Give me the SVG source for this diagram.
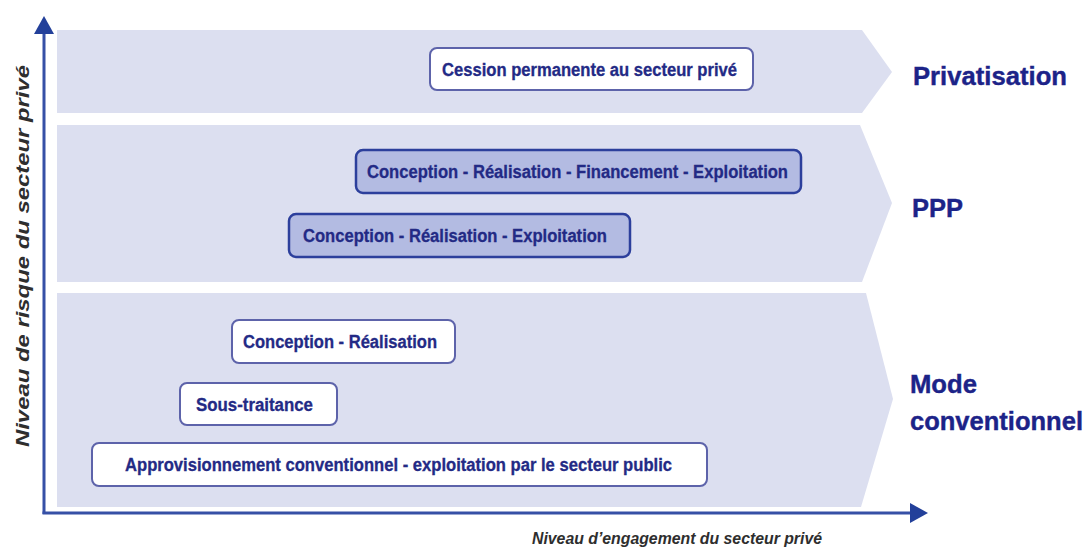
<svg xmlns="http://www.w3.org/2000/svg" width="1089" height="553" viewBox="0 0 1089 553">
  <style>
    .band { fill: #dcdff0; }
    .box-white { fill: #ffffff; stroke: #5d63aa; stroke-width: 2; }
    .box-blue { fill: #b3bbe2; stroke: #2c3f9c; stroke-width: 2.5; }
    .box-text { font-family: "Liberation Sans", Arial, sans-serif; font-weight: bold; font-size: 18px; fill: #232a85; stroke: #232a85; stroke-width: 0.3; }
    .stage { font-family: "Liberation Sans", Arial, sans-serif; font-weight: bold; font-size: 26px; fill: #1c2388; stroke: #1c2388; stroke-width: 0.4; }
    .axis { stroke: #3650a6; stroke-width: 3; fill: none; }
    .axis-label { font-family: "Liberation Sans", Arial, sans-serif; font-weight: bold; font-style: italic; fill: #2e2e2e; }
  </style>
  <defs>
    <marker id="arrow" markerUnits="userSpaceOnUse" markerWidth="20" markerHeight="22" refX="2" refY="10" orient="auto">
      <path d="M0,0 L18,10 L0,20 z" fill="#23409a"/>
    </marker>
  </defs>

  <rect width="1089" height="553" fill="#ffffff"/>

  <!-- stage bands -->
  <g id="band-privatisation">
    <path class="band" d="M57,30 L862,30 L892,72 L862,113 L57,113 z"/>
    <text class="stage" x="913" y="85" textLength="154" lengthAdjust="spacingAndGlyphs">Privatisation</text>
  </g>
  <g id="band-ppp">
    <path class="band" d="M57,125 L860,125 L892,203 L862,282 L57,282 z"/>
    <text class="stage" x="912" y="217" textLength="51" lengthAdjust="spacingAndGlyphs">PPP</text>
  </g>
  <g id="band-conventionnel">
    <path class="band" d="M57,293 L866,293 L893,399 L861,507 L57,507 z"/>
    <text class="stage" x="910" y="393" textLength="67" lengthAdjust="spacingAndGlyphs">Mode</text>
    <text class="stage" x="910" y="430" textLength="173" lengthAdjust="spacingAndGlyphs">conventionnel</text>
  </g>

  <!-- contract types -->
  <g id="node-cession">
    <rect class="box-white" x="430" y="48" width="323" height="42" rx="7"/>
    <text class="box-text" x="442" y="75.5" textLength="295" lengthAdjust="spacingAndGlyphs">Cession permanente au secteur privé</text>
  </g>
  <g id="node-crfe">
    <rect class="box-blue" x="356" y="150" width="445" height="43" rx="7"/>
    <text class="box-text" x="367" y="178" textLength="421" lengthAdjust="spacingAndGlyphs">Conception - Réalisation - Financement - Exploitation</text>
  </g>
  <g id="node-cre">
    <rect class="box-blue" x="289" y="214" width="341" height="43" rx="7"/>
    <text class="box-text" x="303" y="242" textLength="304" lengthAdjust="spacingAndGlyphs">Conception - Réalisation - Exploitation</text>
  </g>
  <g id="node-cr">
    <rect class="box-white" x="232" y="320" width="223" height="43" rx="7"/>
    <text class="box-text" x="243" y="348" textLength="194" lengthAdjust="spacingAndGlyphs">Conception - Réalisation</text>
  </g>
  <g id="node-sous-traitance">
    <rect class="box-white" x="180" y="383" width="157" height="42" rx="7"/>
    <text class="box-text" x="196" y="410.5" textLength="117" lengthAdjust="spacingAndGlyphs">Sous-traitance</text>
  </g>
  <g id="node-approvisionnement">
    <rect class="box-white" x="92" y="443" width="615" height="43" rx="7"/>
    <text class="box-text" x="125" y="470.5" textLength="547" lengthAdjust="spacingAndGlyphs">Approvisionnement conventionnel - exploitation par le secteur public</text>
  </g>

  <!-- axes -->
  <g id="connectors">
    <line class="axis" x1="44" y1="514" x2="44" y2="32" marker-end="url(#arrow)"/>
    <line class="axis" x1="42.5" y1="513" x2="912" y2="513" marker-end="url(#arrow)"/>
  </g>

  <g id="axis-labels">
    <text class="axis-label" font-size="18" transform="translate(29,447) rotate(-90)" textLength="382" lengthAdjust="spacingAndGlyphs">Niveau de risque du secteur privé</text>
    <text class="axis-label" font-size="16" x="532" y="544" textLength="290" lengthAdjust="spacingAndGlyphs">Niveau d’engagement du secteur privé</text>
  </g>
</svg>
